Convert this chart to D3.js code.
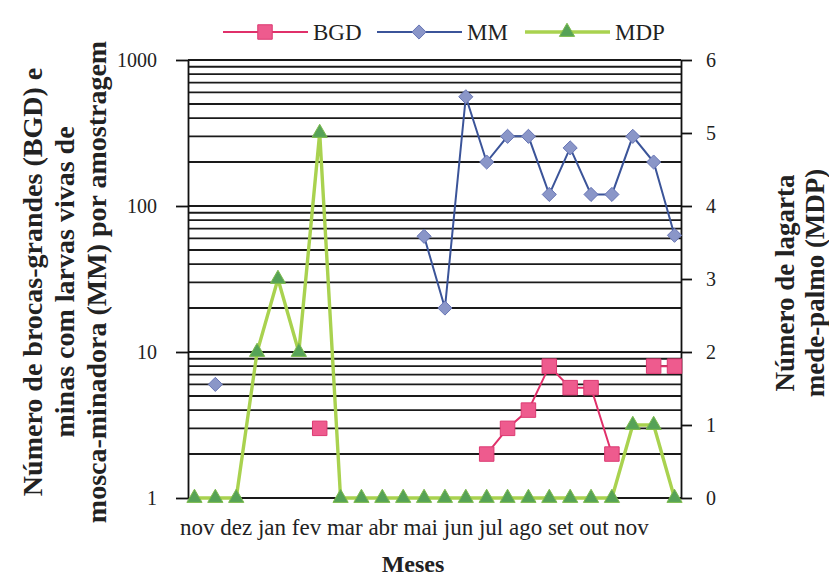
<!DOCTYPE html>
<html lang="pt">
<head>
<meta charset="utf-8">
<title>BGD, MM e MDP</title>
<script src="https://d3js.org/d3.v7.min.js"></script>
<style>
  body { margin: 0; background: #fff; }
  svg text { font-family: "Liberation Serif", "Times New Roman", serif; fill: #222; }
  .axis path, .axis line { stroke: #111; stroke-width: 1.8; }
  .axis text { font-size: 20px; font-family: "Liberation Serif", "Times New Roman", serif; fill: #222; }
  .title { font-size: 28px; font-weight: bold; }
</style>
</head>
<body>
<svg id="chart" width="829" height="578"></svg>
<script>
// sample points (24 samplings, nov -> nov)
var samples = [1,2,3,4,5,6,7,8,9,10,11,12,13,14,15,16,17,18,19,20,21,22,23,24];
var monthLabels = ["nov","dez","jan","fev","mar","abr","mai","jun","jul","ago","set","out","nov"];

// left axis (log) series
var bgd = [null,null,null,null,null,null,3,null,null,null,null,null,null,null,2,3,4,8,5.7,5.7,2,null,8,8];
var mm  = [null,6,null,null,null,null,null,null,null,null,null,62,20,560,200,300,300,120,250,120,120,300,200,63];
// right axis series
var mdp = [0,0,0,2,3,2,5,0,0,0,0,0,0,0,0,0,0,0,0,0,0,1,1,0];

var leftTicks = [1, 10, 100, 1000];
var rightTicks = [0, 1, 2, 3, 4, 5, 6];

var svg = d3.select("#chart");
var plotL = 188, plotR = 681, plotT = 60, plotB = 498;

var x = d3.scalePoint().domain(samples).range([plotL, plotR]).padding(0.31);
var y = d3.scaleLog().domain([1, 1000]).range([plotB, plotT]);
var y2 = d3.scaleLinear().domain([0, 6]).range([plotB, plotT]);

// horizontal grid (major + minor log lines)
svg.append("g")
  .selectAll("line")
  .data(y.ticks())
  .enter().append("line")
  .attr("x1", plotL).attr("x2", plotR)
  .attr("y1", function(d){ return y(d); })
  .attr("y2", function(d){ return y(d); })
  .attr("stroke", "#1a1a1a")
  .attr("stroke-width", 1.9);

// axes
svg.append("g").attr("class", "axis")
  .attr("transform", "translate(" + plotL + ",0)")
  .call(d3.axisLeft(y).tickValues(leftTicks).tickFormat(d3.format("d")).tickSize(12).tickSizeOuter(0).tickPadding(19));

svg.append("g").attr("class", "axis")
  .attr("transform", "translate(" + plotR + ",0)")
  .call(d3.axisRight(y2).tickValues(rightTicks).tickFormat(d3.format("d")).tickSize(11).tickSizeOuter(0).tickPadding(14));

// month labels, written as one run of text as in the original
svg.append("text")
  .attr("x", 180)
  .attr("y", 535)
  .style("font-size", "23px")
  .text(monthLabels.join(" "));

// custom diamond (square turned 45 degrees)
var diamond = {
  draw: function(ctx, size) {
    var r = Math.sqrt(size / 2);
    ctx.moveTo(0, -r); ctx.lineTo(r, 0); ctx.lineTo(0, r); ctx.lineTo(-r, 0); ctx.closePath();
  }
};

// series styles
var series = [
  { name: "BGD", values: bgd, scale: y, line: "#e0306a", width: 2, fill: "#ee5b8e", stroke: "#dc3a72", symbol: d3.symbolSquare, size: 210 },
  { name: "MM",  values: mm,  scale: y, line: "#3b5499", width: 2, fill: "#8a96c8", stroke: "#6775b5", symbol: diamond, size: 100 },
  { name: "MDP", values: mdp, scale: y2, line: "#a9d24f", width: 3.4, fill: "#56a257", stroke: "#7dbb4c", symbol: d3.symbolTriangle, size: 100 }
];

series.forEach(function(s){
  var line = d3.line()
    .defined(function(d){ return d != null; })
    .x(function(d, i){ return x(samples[i]); })
    .y(function(d){ return s.scale(d); });

  svg.append("path")
    .datum(s.values)
    .attr("fill", "none")
    .attr("stroke", s.line)
    .attr("stroke-width", s.width)
    .attr("d", line);

  var pts = s.values.map(function(v, i){ return { v: v, i: i }; })
    .filter(function(d){ return d.v != null; });

  svg.append("g")
    .selectAll("path")
    .data(pts)
    .enter().append("path")
    .attr("d", d3.symbol().type(s.symbol).size(s.size))
    .attr("transform", function(d){ return "translate(" + x(samples[d.i]) + "," + s.scale(d.v) + ")"; })
    .attr("fill", s.fill)
    .attr("stroke", s.stroke)
    .attr("stroke-width", 1);
});

// legend
var legendX = [223, 377, 525];
var lg = svg.append("g");
series.forEach(function(s, i){
  var g = lg.append("g").attr("transform", "translate(" + legendX[i] + ",32)");
  g.append("line").attr("x1", 0).attr("x2", 85)
    .attr("stroke", s.line).attr("stroke-width", s.width);
  g.append("path").attr("d", d3.symbol().type(s.symbol).size(s.size))
    .attr("transform", "translate(42,0)")
    .attr("fill", s.fill).attr("stroke", s.stroke);
  g.append("text").attr("x", 90).attr("y", 8)
    .style("font-size", "23px").text(s.name);
});

// axis titles
var leftTitle = ["Número de brocas-grandes (BGD) e", "minas com larvas vivas de", "mosca-minadora (MM) por amostragem"];
svg.append("g")
  .selectAll("text")
  .data(leftTitle)
  .enter().append("text")
  .attr("class", "title")
  .attr("transform", function(d, i){ return "translate(" + (42 + i * 32) + ",282) rotate(-90)"; })
  .attr("text-anchor", "middle")
  .text(function(d){ return d; });

var rightTitle = ["Número de lagarta", "mede-palmo (MDP)"];
svg.append("g")
  .selectAll("text")
  .data(rightTitle)
  .enter().append("text")
  .attr("class", "title")
  .style("font-size", "27px")
  .attr("transform", function(d, i){ return "translate(" + (794 + i * 30) + ",283) rotate(-90)"; })
  .attr("text-anchor", "middle")
  .text(function(d){ return d; });

svg.append("text")
  .attr("x", 413).attr("y", 572)
  .attr("text-anchor", "middle")
  .style("font-size", "24px")
  .style("font-weight", "bold")
  .text("Meses");
</script>
</body>
</html>
